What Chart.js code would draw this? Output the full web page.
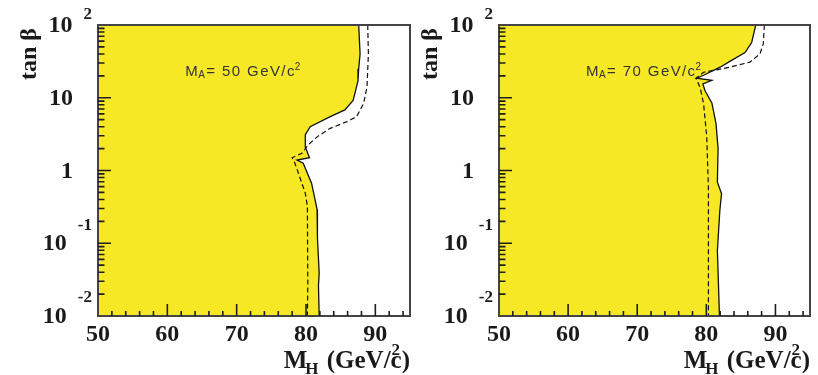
<!DOCTYPE html>
<html>
<head>
<meta charset="utf-8">
<script src="https://cdn.jsdelivr.net/npm/chart.js@4/dist/chart.umd.min.js"></script>
<style>
  html, body { margin: 0; padding: 0; background: #fff; }
  #wrap { position: relative; width: 818px; height: 375px; }
  canvas { position: absolute; left: 0; top: 0; }
</style>
</head>
<body>
<div id="wrap">
  <canvas id="panel50" width="818" height="375"></canvas>
  <canvas id="panel70" width="818" height="375"></canvas>
</div>
<script>
// excluded region boundaries in the (M_H, tan beta) plane

// M_A = 50 GeV/c2, observed limit
var obs50Mh = [87.6, 87.8, 87.6, 87.5, 86.8, 85.6, 83.5, 80.6, 79.9, 79.9, 80.5, 78.7, 79.6, 80.8, 81.3, 81.6, 81.65, 81.9, 81.8, 81.9];
var obs50Tb = [100, 40, 25, 17, 9.2, 6.8, 5.5, 4.0, 3.1, 2.1, 1.5, 1.39, 1.26, 0.67, 0.40, 0.29, 0.12, 0.039, 0.026, 0.01];
// M_A = 50 GeV/c2, expected limit
var exp50Mh = [88.9, 89.0, 88.8, 88.3, 87.3, 85.9, 83.5, 81.6, 80.3, 79.4, 78.0, 78.4, 79.4, 79.9, 80.2, 80.26, 80.2];
var exp50Tb = [100, 40, 14.1, 8.3, 5.5, 4.7, 3.8, 2.9, 2.24, 1.72, 1.5, 1.26, 0.67, 0.49, 0.32, 0.026, 0.01];

// M_A = 70 GeV/c2, observed limit
var obs70Mh = [87.15, 86.56, 85.6, 83.4, 82.0, 79.6, 78.6, 80.8, 79.5, 79.8, 80.8, 81.4, 81.7, 81.6, 82.2, 81.95, 81.6, 81.9];
var obs70Tb = [100, 57.5, 41.7, 31.6, 26.3, 20.4, 18.6, 17.4, 15.5, 12.6, 8.5, 4.4, 2.0, 0.69, 0.48, 0.28, 0.079, 0.01];
// M_A = 70 GeV/c2, expected limit
var exp70Mh = [88.4, 88.24, 87.76, 86.3, 83.4, 79.6, 78.5, 79.1, 79.6, 80.06, 80.3, 80.3];
var exp70Tb = [100, 55, 40, 30.9, 26.3, 22.4, 18.6, 13.8, 8.3, 2.9, 0.59, 0.01];

var xTickLabels = [50, 60, 70, 80, 90];
var yTickExponents = [-2, -1, 0, 1, 2];

var xRange = [50, 95];
var yRange = [0.01, 100];

var YELLOW = '#f7e826';
var FRAME = '#444';
var SERIF = '"Liberation Serif", "Times New Roman", serif';
var SANS = '"Liberation Sans", Arial, sans-serif';

function toPoints(xs, ys) {
  return xs.map(function (v, i) { return {x: v, y: ys[i]}; });
}

// frame, inward ticks, ROOT style labels
var axisDecor = {
  id: 'axisDecor',
  afterDraw: function (chart, args, opts) {
    var ctx = chart.ctx, a = chart.chartArea;
    var xs = chart.scales.x, ys = chart.scales.y;
    var L = a.left, B = a.bottom;
    ctx.save();

    // frame
    ctx.strokeStyle = FRAME;
    ctx.lineWidth = 2;
    ctx.strokeRect(a.left, a.top, a.right - a.left, a.bottom - a.top);

    // inward tick marks
    ctx.strokeStyle = '#1e1e1e';
    ctx.lineWidth = 1.6;
    ctx.beginPath();
    for (var v = xRange[0] + 2; v < xRange[1]; v += 2) {
      var px = xs.getPixelForValue(v);
      var len = (v % 10 === 0) ? 12 : 5;
      ctx.moveTo(px, B);
      ctx.lineTo(px, B - len);
    }
    for (var e = -2; e < 2; e++) {
      for (var m = 1; m <= 9; m++) {
        if (e === -2 && m === 1) continue;
        var py = ys.getPixelForValue(m * Math.pow(10, e));
        var l = (m === 1) ? 13 : 6.5;
        ctx.moveTo(L, py);
        ctx.lineTo(L + l, py);
      }
    }
    ctx.stroke();

    ctx.fillStyle = '#1a1a1a';
    ctx.textBaseline = 'middle';

    // x tick labels
    ctx.font = 'bold 24px ' + SERIF;
    ctx.textAlign = 'center';
    xTickLabels.forEach(function (t) {
      ctx.fillText(String(t), xs.getPixelForValue(t), B + 19);
    });

    // y tick labels, powers of ten
    yTickExponents.forEach(function (e) {
      var py = ys.getPixelForValue(Math.pow(10, e));
      ctx.textAlign = 'right';
      if (e === 0 || e === 1) {
        ctx.font = 'bold 24px ' + SERIF;
        ctx.fillText(e === 0 ? '1' : '10', L - 25, py + 1);
        return;
      }
      ctx.font = 'bold 17px ' + SERIF;
      var es = String(e);
      var w = ctx.measureText(es).width;
      ctx.fillText(es, L - 6, Math.max(py - 18, a.top - 10));
      ctx.font = 'bold 24px ' + SERIF;
      ctx.fillText('10', L - 6 - w - 11, py + 1);
    });

    // y title
    ctx.save();
    ctx.translate(L - 68, a.top + 3);
    ctx.rotate(-Math.PI / 2);
    ctx.font = 'bold 24px ' + SERIF;
    ctx.textAlign = 'right';
    ctx.fillText('tan \u03b2', 0, 0);
    ctx.restore();

    // x title: M_H (GeV/c^2), right aligned on the frame
    ctx.textBaseline = 'alphabetic';
    ctx.textAlign = 'left';
    var big = 'bold 25px ' + SERIF, small = 'bold 17px ' + SERIF;
    ctx.font = big;
    var wM = ctx.measureText('M').width;
    var wMid = ctx.measureText(' (GeV/c').width;
    var wC = ctx.measureText('c').width;
    var wEnd = ctx.measureText(')').width;
    ctx.font = small;
    var wH = ctx.measureText('H').width;
    var base = B + 52;
    var x0 = a.right - (wM + wH + wMid + wEnd);
    ctx.font = big;
    ctx.fillText('M', x0, base);
    ctx.font = small;
    ctx.fillText('H', x0 + wM - 2, base + 6);
    ctx.font = big;
    ctx.fillText(' (GeV/c', x0 + wM + wH, base);
    ctx.fillText(')', x0 + wM + wH + wMid, base);
    ctx.font = small;
    ctx.fillText('2', x0 + wM + wH + wMid - wC + 1, base - 13);

    // M_A annotation
    var o = opts || {};
    var tx = xs.getPixelForValue(o.labelAt[0]);
    var ty = ys.getPixelForValue(o.labelAt[1]);
    ctx.fillStyle = '#333';
    ctx.letterSpacing = '1.4px';
    var fb = '15px ' + SANS, fs = '10px ' + SANS;
    var bl = ty + 5.5;
    ctx.font = fb;
    ctx.fillText('M', tx, bl);
    var cx = tx + ctx.measureText('M').width;
    ctx.font = fs;
    ctx.fillText('A', cx - 1, bl + 2);
    cx += ctx.measureText('A').width - 1;
    ctx.font = fb;
    var body = '= ' + o.massA + ' GeV/c';
    ctx.fillText(body, cx, bl);
    cx += ctx.measureText(body).width;
    ctx.font = fs;
    ctx.fillText('2', cx - 1, bl - 6);

    ctx.restore();
  }
};

function makePanel(id, padding, obsMh, obsTb, expMh, expTb, massA) {
  var obs = toPoints(obsMh, obsTb);
  // closed region: boundary plus the left edge of the plane
  var region = obs.concat([{x: xRange[0], y: yRange[0]}, {x: xRange[0], y: yRange[1]}]);
  return new Chart(document.getElementById(id), {
    type: 'line',
    data: {
      datasets: [
        {
          label: 'observed',
          data: obs,
          fill: false,
          borderColor: '#111',
          borderWidth: 1.3,
          pointRadius: 0,
          order: 0
        },
        {
          label: 'expected',
          data: toPoints(expMh, expTb),
          fill: false,
          borderColor: '#111',
          borderWidth: 1.2,
          borderDash: [5, 3],
          pointRadius: 0,
          order: 0
        },
        {
          label: 'excluded',
          data: region,
          fill: 'shape',
          backgroundColor: YELLOW,
          borderColor: 'rgba(0,0,0,0)',
          borderWidth: 0,
          pointRadius: 0,
          order: 5
        }
      ]
    },
    options: {
      responsive: false,
      animation: false,
      devicePixelRatio: 1,
      layout: { padding: padding },
      elements: { line: { tension: 0 } },
      scales: {
        x: { type: 'linear', min: xRange[0], max: xRange[1], display: false },
        y: { type: 'logarithmic', min: yRange[0], max: yRange[1], display: false }
      },
      plugins: {
        legend: { display: false },
        tooltip: { enabled: false },
        axisDecor: { massA: massA, labelAt: [62.6, 24] }
      }
    },
    plugins: [axisDecor]
  });
}

makePanel('panel50', {left: 98, right: 408, top: 25, bottom: 59}, obs50Mh, obs50Tb, exp50Mh, exp50Tb, 50);
makePanel('panel70', {left: 499, right: 8, top: 25, bottom: 59}, obs70Mh, obs70Tb, exp70Mh, exp70Tb, 70);
</script>
</body>
</html>
